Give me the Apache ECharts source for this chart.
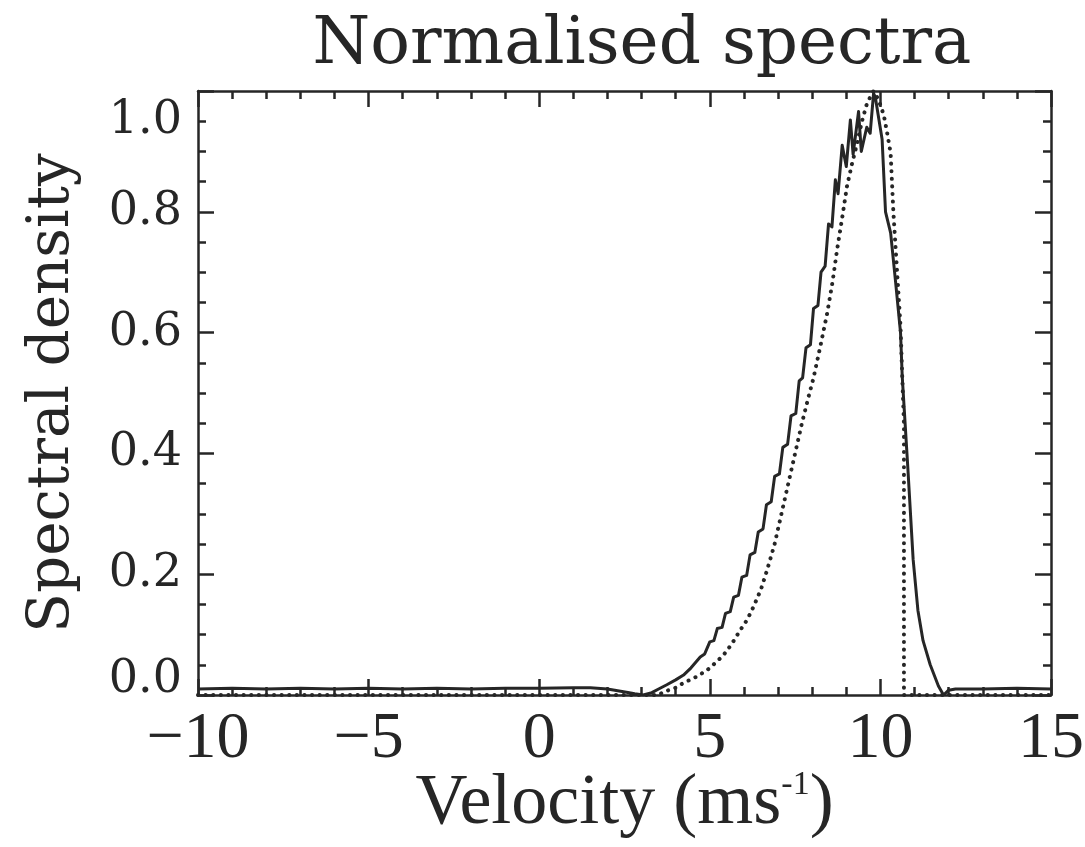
<!DOCTYPE html>
<html>
<head>
<meta charset="utf-8">
<script src="https://cdn.jsdelivr.net/npm/echarts@6/dist/echarts.min.js"></script>
<style>
html,body{margin:0;padding:0;background:#fff;}
#chart{width:1085px;height:847px;}
</style>
</head>
<body>
<div id="chart"></div>
<script>
// ---- data ----
const titleText = 'Normalised spectra';
const xName = 'Velocity';
const yName = 'Spectral density';
const xTicks = [-10, -5, 0, 5, 10, 15];
const yTicks = [0.0, 0.2, 0.4, 0.6, 0.8, 1.0];

// measured spectrum (solid)
const solidV = [-10, -9, -8, -7, -6, -5, -4, -3, -2, -1, 0, 1, 1.5, 2.0, 2.3, 2.6, 2.8, 3.05,
  3.3, 3.5, 3.74, 4.0, 4.23, 4.45, 4.72, 4.85, 5.0, 5.12, 5.22, 5.36, 5.46, 5.60, 5.70, 5.84, 5.94, 6.08,
  6.18, 6.32, 6.42, 6.56, 6.66, 6.80, 6.90, 7.04, 7.14, 7.28, 7.38, 7.52, 7.62, 7.72, 7.82, 7.95,
  8.04, 8.17, 8.26, 8.38, 8.48, 8.58, 8.68, 8.76, 8.88, 9.0, 9.12, 9.2, 9.36, 9.44, 9.6, 9.7,
  9.8, 9.85, 10.05, 10.15, 10.3, 10.44, 10.59, 10.64, 10.8, 10.96, 11.1, 11.25, 11.46, 11.7, 11.85,
  12.0, 12.2, 13, 14, 15];
const solidY = [0.010, 0.011, 0.010, 0.011, 0.010, 0.011, 0.010, 0.011, 0.010, 0.011, 0.011, 0.012, 0.012, 0.010, 0.007, 0.004, 0.002, 0.000,
  0.004, 0.010, 0.017, 0.025, 0.033, 0.045, 0.063, 0.068, 0.088, 0.090, 0.110, 0.112, 0.135, 0.138, 0.162, 0.165, 0.195, 0.198,
  0.232, 0.236, 0.270, 0.275, 0.315, 0.320, 0.362, 0.366, 0.410, 0.415, 0.462, 0.466, 0.520, 0.525, 0.575, 0.580,
  0.640, 0.645, 0.700, 0.710, 0.780, 0.775, 0.853, 0.830, 0.910, 0.875, 0.952, 0.895, 0.966, 0.900, 0.940, 0.930,
  0.996, 0.990, 0.920, 0.800, 0.765, 0.687, 0.600, 0.527, 0.380, 0.224, 0.140, 0.090, 0.050, 0.015, 0.000,
  0.008, 0.010, 0.010, 0.011, 0.010];

// model spectrum (dotted)
const dottedV = [-10, 3.5, 3.64, 4.0, 4.23, 4.6, 4.92, 5.2, 5.4, 5.65, 5.9, 6.1, 6.28, 6.5, 6.68, 6.9, 7.1, 7.3,
  7.5, 7.7, 7.9, 8.04, 8.25, 8.44, 8.6, 8.73, 8.88, 9.02, 9.17, 9.32, 9.46, 9.61, 9.8, 9.95, 10.1, 10.2,
  10.3, 10.38, 10.48, 10.59, 10.64, 10.69, 10.69, 15];
const dottedY = [0.000, 0.000, 0.005, 0.012, 0.020, 0.030, 0.041, 0.055, 0.066, 0.085, 0.108, 0.125, 0.146, 0.175, 0.207, 0.250, 0.300, 0.350,
  0.400, 0.450, 0.495, 0.525, 0.580, 0.632, 0.685, 0.737, 0.790, 0.842, 0.880, 0.914, 0.950, 0.980, 1.000, 0.985, 0.960, 0.930,
  0.897, 0.800, 0.709, 0.610, 0.527, 0.450, 0.000, 0.000];

// ---- chart ----
const ink = '#262626';
const serif = 'DejaVu Serif';
const times = 'Liberation Serif';
const zip = (a, b) => a.map((v, i) => [v, b[i]]);

const chart = echarts.init(document.getElementById('chart'), null, {renderer: 'canvas'});

const common = {
  axisLine: {show: true, onZero: false, lineStyle: {color: ink, width: 2.5}},
  axisTick: {show: true, inside: true, length: 16, lineStyle: {color: ink, width: 2.5}},
  minorTick: {show: true, length: 8, lineStyle: {color: ink, width: 2.5}},
  splitLine: {show: false},
  minorSplitLine: {show: false}
};

chart.setOption({
  animation: false,
  backgroundColor: '#fff',
  title: {
    text: titleText,
    left: 637, top: 8, textAlign: 'center',
    textStyle: {fontFamily: serif, fontWeight: 'normal', fontSize: 66, color: ink}
  },
  grid: {left: 198, top: 91, right: 34, bottom: 152, containLabel: false, outerBoundsMode: 'none'},
  xAxis: [
    Object.assign({}, common, {
      type: 'value', position: 'bottom', min: xTicks[0], max: xTicks[xTicks.length - 1], interval: 5,
      minorTick: Object.assign({}, common.minorTick, {splitNumber: 5}),
      axisLabel: {
        margin: 12, fontFamily: times, fontSize: 66, color: ink,
        formatter: v => String(v).replace('-', '\u2212')
      },
      name: xName + ' (ms{sup|-1})',
      nameLocation: 'middle', nameGap: 73, nameMoveOverlap: false,
      nameTextStyle: {
        fontFamily: times, fontSize: 72, color: ink,
        rich: {sup: {fontFamily: times, fontSize: 34, color: ink, verticalAlign: 'top', padding: [0, 0, 26, 0]}}
      }
    }),
    Object.assign({}, common, {
      type: 'value', position: 'top', min: xTicks[0], max: xTicks[xTicks.length - 1], interval: 5,
      minorTick: Object.assign({}, common.minorTick, {splitNumber: 5}),
      axisLabel: {show: false}
    })
  ],
  yAxis: [
    Object.assign({}, common, {
      type: 'value', position: 'left', min: yTicks[0], max: yTicks[yTicks.length - 1], interval: 0.2,
      minorTick: Object.assign({}, common.minorTick, {splitNumber: 4}),
      axisLabel: {
        margin: 16, fontFamily: serif, fontSize: 46, color: ink,
        formatter: v => {
          const s = v.toFixed(1);
          if (v >= 0.999) return '{hi|' + s + '}';
          if (v <= 0.001) return '{lo|' + s + '}';
          return s;
        },
        rich: {
          hi: {fontFamily: serif, fontSize: 46, color: ink, padding: [60, 0, 0, 0]},
          lo: {fontFamily: serif, fontSize: 46, color: ink, padding: [0, 0, 30, 0]}
        }
      },
      name: yName, nameLocation: 'middle', nameRotate: 90, nameGap: 116, nameMoveOverlap: false,
      nameTextStyle: {fontFamily: serif, fontSize: 58, color: ink}
    }),
    Object.assign({}, common, {
      type: 'value', position: 'right', min: yTicks[0], max: yTicks[yTicks.length - 1], interval: 0.2,
      minorTick: Object.assign({}, common.minorTick, {splitNumber: 4}),
      axisLabel: {show: false}
    })
  ],
  series: [
    {
      type: 'line', name: 'measured', xAxisIndex: 0, yAxisIndex: 0,
      data: zip(solidV, solidY), showSymbol: false, symbol: 'none', clip: true,
      lineStyle: {color: ink, width: 3, join: 'round'}
    },
    {
      type: 'line', name: 'model', xAxisIndex: 0, yAxisIndex: 0,
      data: zip(dottedV, dottedY), showSymbol: false, symbol: 'none', clip: true,
      lineStyle: {color: ink, width: 4, type: [0.1, 7.5], cap: 'round'}
    }
  ]
});
</script>
</body>
</html>
